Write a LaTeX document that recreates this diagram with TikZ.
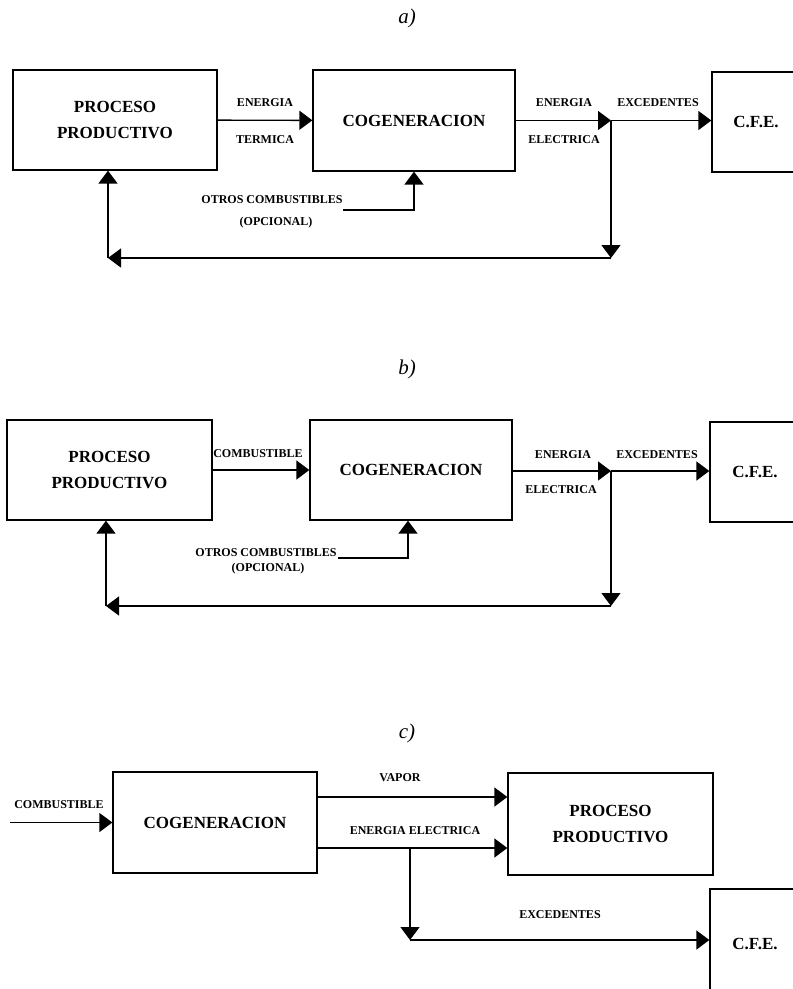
\documentclass[tikz,border=0pt]{standalone}
\usepackage{fontspec}
\setmainfont{Liberation Serif}
\usetikzlibrary{arrows.meta}
\begin{document}
\begin{tikzpicture}[x=1pt,y=-1pt,
  blk/.style={draw, line width=1.3pt, inner sep=0pt, align=center,
    font=\bfseries\fontsize{17}{26}\selectfont},
  lbl/.style={inner sep=0pt, font=\bfseries\fontsize{12}{14}\selectfont},
  ttl/.style={inner sep=0pt, font=\itshape\fontsize{21}{24}\selectfont},
  wire/.style={line width=1.4pt},
  flow/.style={line width=1.4pt, -{Triangle[length=13pt,width=19pt]}}]
\useasboundingbox (0,0) rectangle (793,989);
\clip (0,0) rectangle (793,989);

% ---------------- a) ----------------
\node[ttl] (ta) at (407,18) {a)};
\node[blk, minimum width=204pt, minimum height=100pt] (ppa) at (115,120) {PROCESO\\PRODUCTIVO};
\node[blk, minimum width=202pt, minimum height=101pt] (cga) at (414,120.5) {COGENERACION};
\node[blk, minimum width=88pt, minimum height=100pt] (cfa) at (756,122) {C.F.E.};

\draw[flow] (ppa) -- (cga);
\node[lbl] (ea1) at (265,103) {ENERGIA};
\node[lbl] (ea2) at (265,140) {TERMICA};

\coordinate (ja) at (611,120.5);
\draw[flow] (cga) -- (ja);
\draw[flow] (ja) -- (ja -| cfa.west);
\node[lbl] (ea3) at (564,103) {ENERGIA};
\node[lbl] (ea4) at (564,140) {ELECTRICA};
\node[lbl] (ea5) at (658,103) {EXCEDENTES};

\coordinate (da) at (611,258);
\coordinate (la) at (108,258);
\draw[flow] (ja) -- (da);
\draw[flow] (da) -- (la);
\draw[flow] (la) -- (la |- ppa.south);

\coordinate (oa) at (343,210);
\draw[flow] (oa) -| (cga.south);
\node[lbl] (oa1) at (272,200) {OTROS COMBUSTIBLES};
\node[lbl] (oa2) at (276,223) {(OPCIONAL)};

% ---------------- b) ----------------
\node[ttl] (tb) at (407,369) {b)};
\node[blk, minimum width=205pt, minimum height=100pt] (ppb) at (109.5,470) {PROCESO\\PRODUCTIVO};
\node[blk, minimum width=202pt, minimum height=100pt] (cgb) at (411,470) {COGENERACION};
\node[blk, minimum width=90pt, minimum height=100pt] (cfb) at (755,472) {C.F.E.};

\draw[flow] (ppb) -- (cgb);
\node[lbl] (cb1) at (258,454) {COMBUSTIBLE};

\coordinate (jb) at (611,471);
\draw[flow] (cgb.east |- jb) -- (jb);
\draw[flow] (jb) -- (jb -| cfb.west);
\node[lbl] (eb1) at (563,455) {ENERGIA};
\node[lbl] (eb2) at (561,490) {ELECTRICA};
\node[lbl] (eb3) at (657,455) {EXCEDENTES};

\coordinate (db) at (611,606);
\coordinate (lb) at (106,606);
\draw[flow] (jb) -- (db);
\draw[flow] (db) -- (lb);
\draw[flow] (lb) -- (lb |- ppb.south);

\coordinate (ob) at (338,558);
\draw[flow] (ob) -| (cgb.south -| 408,0);
\node[lbl] (ob1) at (266,553) {OTROS COMBUSTIBLES};
\node[lbl] (ob2) at (268,569) {(OPCIONAL)};

% ---------------- c) ----------------
\node[ttl] (tc) at (407,733) {c)};
\node[blk, minimum width=204pt, minimum height=101pt] (cgc) at (215,822.5) {COGENERACION};
\node[blk, minimum width=205pt, minimum height=102pt] (ppc) at (610.5,824) {PROCESO\\PRODUCTIVO};
\node[blk, minimum width=90pt, minimum height=110pt] (cfc) at (755,944) {C.F.E.};

\coordinate (ic) at (10,822.5);
\draw[flow] (ic) -- (cgc);
\node[lbl] (cc1) at (59,805) {COMBUSTIBLE};

\coordinate (vc) at ([yshift=25.5pt]cgc.east);
\draw[flow] (vc) -- (vc -| ppc.west);
\node[lbl] (vc1) at (400,778) {VAPOR};

\coordinate (ec) at ([yshift=-25.5pt]cgc.east);
\draw[flow] (ec) -- (ec -| ppc.west);
\node[lbl] (ec1) at (415,831) {ENERGIA ELECTRICA};

\coordinate (bc) at (410,848);
\coordinate (dc) at (410,940);
\draw[flow] (bc) -- (dc);
\draw[flow] (dc) -- (dc -| cfc.west);
\node[lbl] (xc1) at (560,915) {EXCEDENTES};
\end{tikzpicture}
\end{document}
